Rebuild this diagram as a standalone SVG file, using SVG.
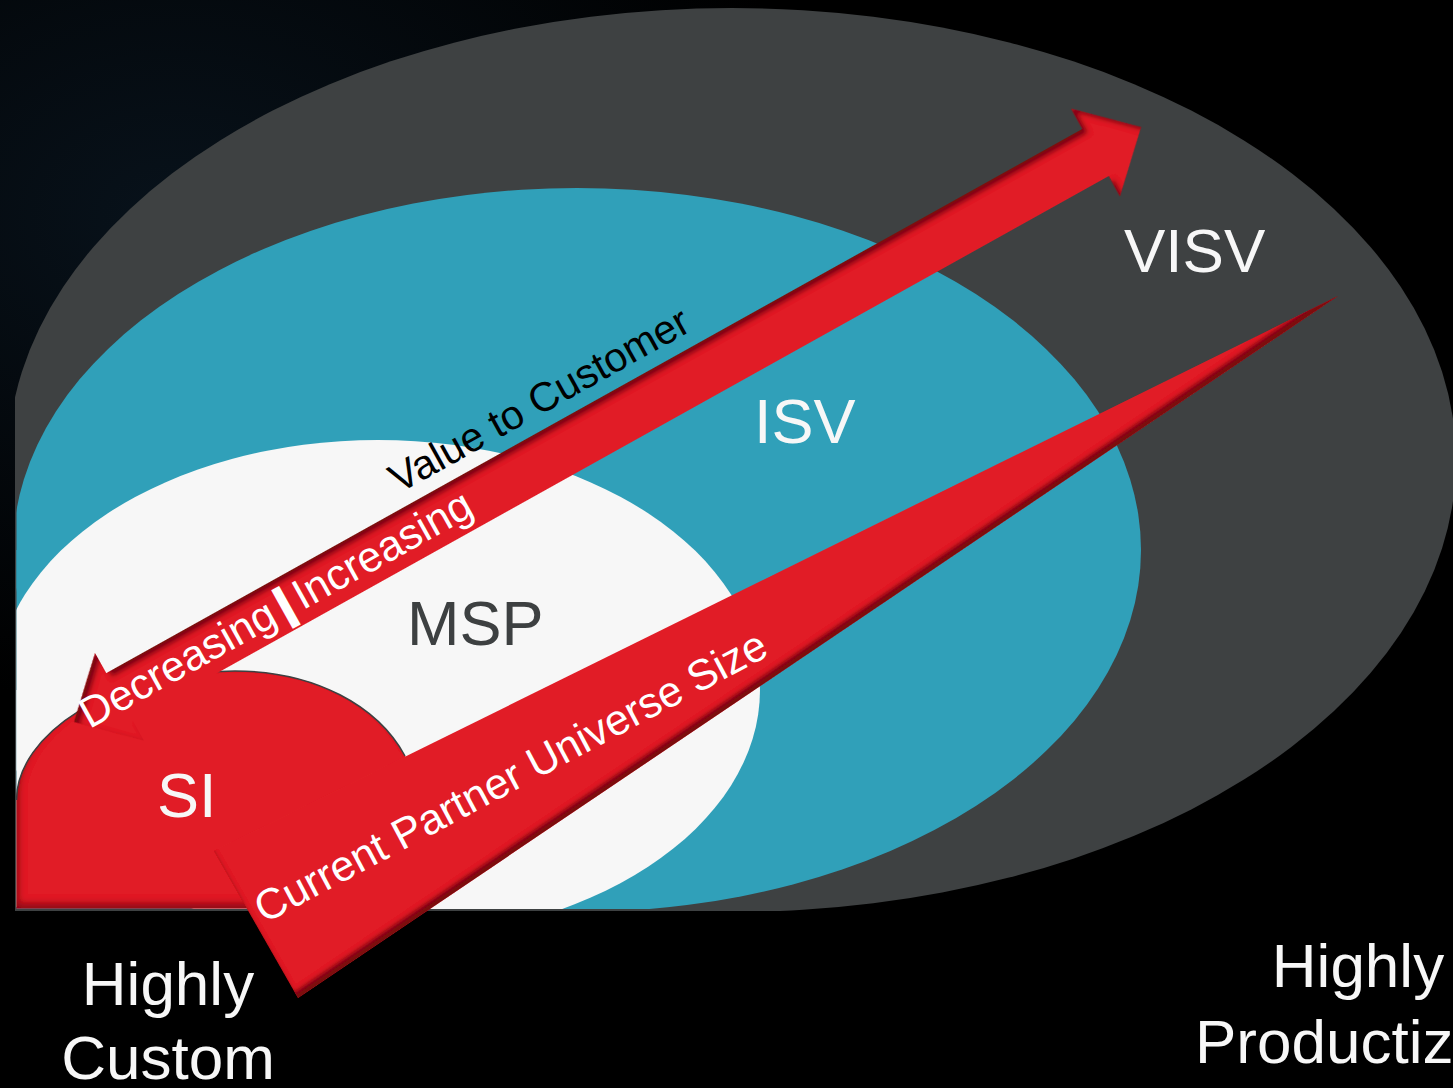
<svg xmlns="http://www.w3.org/2000/svg" width="1453" height="1088" viewBox="0 0 1453 1088">
<defs>
<style>
.lbl{font-family:"Liberation Sans",Arial,sans-serif;}
.big{font-size:62px;}
.w{fill:#f7f7f7;}
.arrowtxt{font-family:"Liberation Sans",Arial,sans-serif;font-size:43px;fill:#ffffff;}
.red{fill:#e11e27;}
</style>
<radialGradient id="bgGlow" cx="0.12" cy="0.2" r="0.45">
<stop offset="0" stop-color="#08121b"/>
<stop offset="1" stop-color="#000000"/>
</radialGradient>
<clipPath id="frame"><rect x="15" y="0" width="1438" height="911"/></clipPath>
<clipPath id="frameIn"><rect x="16.5" y="0" width="1436" height="909"/></clipPath>
<filter id="innerTop" x="-3%" y="-5%" width="106%" height="110%">
<feComponentTransfer in="SourceAlpha" result="inv"><feFuncA type="table" tableValues="1 0"/></feComponentTransfer>
<feOffset in="inv" dx="3" dy="6" result="off"/>
<feGaussianBlur in="off" stdDeviation="2.5" result="blur"/>
<feFlood flood-color="#5a080d" flood-opacity="0.85"/>
<feComposite in2="blur" operator="in" result="sh"/>
<feComposite in="sh" in2="SourceAlpha" operator="in" result="inner"/>
<feMerge><feMergeNode in="SourceGraphic"/><feMergeNode in="inner"/></feMerge>
</filter>
<filter id="innerBot" x="-3%" y="-5%" width="106%" height="110%">
<feComponentTransfer in="SourceAlpha" result="inv"><feFuncA type="table" tableValues="1 0"/></feComponentTransfer>
<feOffset in="inv" dx="-4" dy="-6" result="off"/>
<feGaussianBlur in="off" stdDeviation="2" result="blur"/>
<feFlood flood-color="#5a080d" flood-opacity="0.85"/>
<feComposite in2="blur" operator="in" result="sh"/>
<feComposite in="sh" in2="SourceAlpha" operator="in" result="inner"/>
<feMerge><feMergeNode in="SourceGraphic"/><feMergeNode in="inner"/></feMerge>
</filter>
<filter id="innerSI" x="-5%" y="-5%" width="110%" height="110%">
<feComponentTransfer in="SourceAlpha" result="inv"><feFuncA type="table" tableValues="1 0"/></feComponentTransfer>
<feOffset in="inv" dx="3" dy="-6" result="off"/>
<feGaussianBlur in="off" stdDeviation="3" result="blur"/>
<feFlood flood-color="#5a080d" flood-opacity="0.7"/>
<feComposite in2="blur" operator="in" result="sh"/>
<feComposite in="sh" in2="SourceAlpha" operator="in" result="inner"/>
<feMerge><feMergeNode in="SourceGraphic"/><feMergeNode in="inner"/></feMerge>
</filter>
</defs>

<rect x="0" y="0" width="1453" height="1088" fill="#000"/>
<rect x="0" y="0" width="1453" height="1088" fill="url(#bgGlow)"/>

<g id="visv">
<g clip-path="url(#frame)">
<ellipse cx="732" cy="460" rx="724" ry="452" fill="#3e4142"/>
<rect x="15" y="460" width="720" height="451" fill="#3e4142"/>
</g>
<text class="lbl big w" x="1124" y="272">VISV</text>
</g>

<g id="isv">
<g clip-path="url(#frameIn)">
<ellipse cx="577" cy="550" rx="564" ry="362" fill="#30a0b9"/>
<rect x="15" y="550" width="565" height="361" fill="#30a0b9"/>
</g>
<text class="lbl w" font-size="63" x="754" y="443">ISV</text>
</g>

<g id="msp">
<g clip-path="url(#frameIn)">
<ellipse cx="378" cy="690" rx="382" ry="250" fill="#f7f7f7"/>
<rect x="15" y="690" width="365" height="217" fill="#f7f7f7"/>
</g>
<text class="lbl" font-size="63" fill="#3d4041" x="407" y="645">MSP</text>
</g>

<g id="si">
<path class="red" d="M16.5,908.5 L16.5,800 C16.5,735 110,671 235,671 C315,671 378,706 405,756 L440,805 L270,908.5 Z" filter="url(#innerSI)"/>
<path d="M16.5,800 C16.5,735 110,671 235,671 C315,671 378,706 405,756" fill="none" stroke="#3d4041" stroke-width="1.5"/>
<text class="lbl w" font-size="63" x="157" y="817">SI</text>
</g>

<g id="connectors">
<g id="partner-arrow">
<polygon class="red" points="214,851 1338,296 298,998" filter="url(#innerBot)"/>
<text class="arrowtxt" font-size="42.5" transform="translate(266,923) rotate(-28)" x="-2" y="0">Current Partner Universe Size</text>
</g>
<g id="value-arrow" transform="translate(74,722) rotate(-29.14)">
<polygon class="red" points="0,0 52,-50 52,-27 1169.7,-27 1169.7,-50 1221.7,0 1169.7,50 1169.7,27 52,27 52,50" filter="url(#innerTop)"/>
<text class="arrowtxt" x="10" y="14">Decreasing</text>
<text class="arrowtxt" x="241" y="14" font-size="31" font-weight="bold" text-anchor="middle" stroke="#ffffff" stroke-width="3.5">|</text>
<text class="arrowtxt" font-size="44" x="254" y="14">Increasing</text>
<text class="lbl" font-size="41" fill="#000" x="395" y="-41">Value to Customer</text>
</g>
</g>

<g id="axis-labels">
<text class="lbl big w" text-anchor="middle" x="168" y="1005">Highly</text>
<text class="lbl big w" text-anchor="middle" x="168" y="1079">Custom</text>
<text class="lbl big w" text-anchor="middle" x="1358" y="987">Highly</text>
<text class="lbl big w" x="1195" y="1063">Productiz</text>
</g>
</svg>
